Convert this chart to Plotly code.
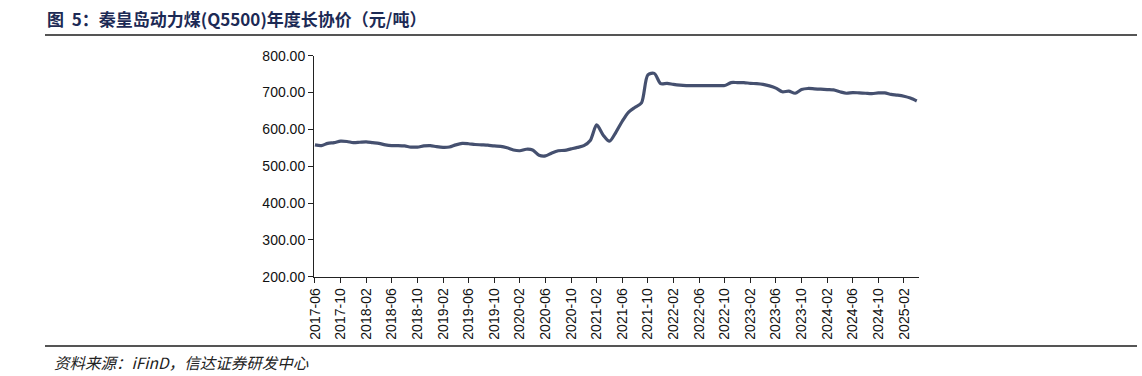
import plotly.graph_objects as go

W, H = 1142, 376

months = []
for y in range(2017, 2026):
    for m in range(1, 13):
        if (y == 2017 and m < 6) or (y == 2025 and m > 4):
            continue
        months.append(f"{y}-{m:02d}")

prices = [
    558, 556, 562, 564, 568, 567, 564,            # 2017-06..2017-12
    565, 566, 564, 562, 558, 556, 556, 555, 552, 552, 555, 556,  # 2018
    553, 551, 552, 558, 562, 561, 559, 558, 557, 555, 554, 550,  # 2019
    544, 542, 546, 544, 530, 528, 536, 542, 543, 547, 551, 556,  # 2020
    570, 612, 585, 568, 592, 622, 647, 660, 672, 748, 752, 724,  # 2021
    725, 722, 720, 719, 719, 719, 719, 719, 719, 719, 727, 727,  # 2022
    727, 725, 724, 722, 718, 712, 702, 704, 698, 708, 711, 710,  # 2023
    709, 708, 707, 702, 698, 700, 699, 698, 697, 699, 699, 695,  # 2024
    693, 690, 685, 677,                                        # 2025-01..04
]

tick_labels = months[::4]

def px(x):
    return x / W

def py(y):
    return 1 - y / H

fig = go.Figure()
fig.add_trace(go.Scatter(
    x=months, y=prices, mode="lines",
    line=dict(color="#45506f", width=3.2, shape="spline", smoothing=0.8),
    showlegend=False, hoverinfo="x+y",
))

axis_font = dict(family="Liberation Sans, Arial, sans-serif", size=14, color="#111")

fig.update_layout(
    width=W, height=H,
    margin=dict(l=0, r=0, t=0, b=0, autoexpand=False),
    paper_bgcolor="white", plot_bgcolor="white",
    xaxis=dict(
        domain=[px(314), px(919)],
        type="category", categoryorder="array", categoryarray=months,
        range=[-0.15, 94.35],
        tickmode="array", tickvals=tick_labels, ticktext=tick_labels,
        tickangle=-90, tickfont=axis_font, automargin=False,
        showline=True, linecolor="#222", linewidth=1,
        ticks="outside", ticklen=5, tickcolor="#222",
        showgrid=False, zeroline=False,
    ),
    yaxis=dict(
        domain=[py(276.7), py(55.7)],
        range=[200, 800], dtick=100, tickformat=".2f",
        tickfont=axis_font, automargin=False,
        showline=True, linecolor="#222", linewidth=1,
        ticks="outside", ticklen=5, tickcolor="#222",
        showgrid=False, zeroline=False,
    ),
    shapes=[
        dict(type="line", xref="paper", yref="paper",
             x0=px(45), x1=px(1137), y0=py(35), y1=py(35),
             line=dict(color="#555", width=2)),
        dict(type="line", xref="paper", yref="paper",
             x0=px(45), x1=px(1137), y0=py(346), y1=py(346),
             line=dict(color="#555", width=2)),
    ],
    annotations=[
        dict(text="<b>图  5：秦皇岛动力煤(Q5500)年度长协价（元/吨）</b>",
             xref="paper", yref="paper", x=px(45), y=py(19),
             xanchor="left", yanchor="middle", showarrow=False,
             font=dict(family="Noto Sans CJK SC", size=17, color="#1c2a55")),
        dict(text="<i>资料来源：iFinD，信达证券研发中心</i>",
             xref="paper", yref="paper", x=px(52), y=py(362),
             xanchor="left", yanchor="middle", showarrow=False,
             font=dict(family="Noto Sans CJK SC", size=15.5, color="#222")),
    ],
)

fig.write_html(
    "out.html",
    config={"displayModeBar": False},
    post_script="document.body.style.margin='0';document.body.style.overflow='hidden';",
)
